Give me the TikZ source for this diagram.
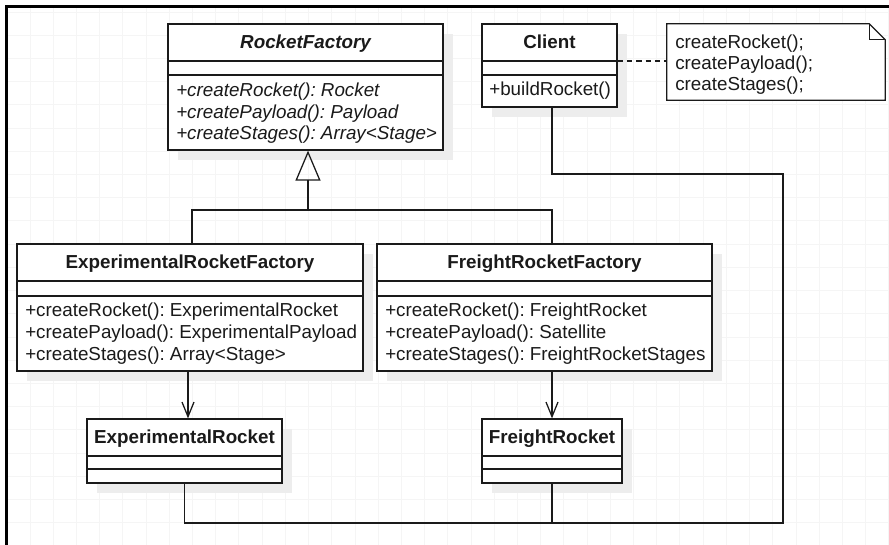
\documentclass[tikz,border=0pt]{standalone}
\usepackage{fontspec}
\setmainfont{Liberation Sans}
\usetikzlibrary{arrows.meta,shadows,calc}
\definecolor{gridc}{HTML}{F5F5F5}
\definecolor{shadc}{HTML}{EDEDED}
\definecolor{inkc}{HTML}{1A1A1A}
\tikzset{
  classbox/.style={draw=inkc, line width=0.95pt, fill=white, inner sep=0pt,
    general shadow={fill=shadc, shadow xshift=7.5pt, shadow yshift=-7.5pt}},
  notebox/.style={inner sep=0pt},
  divider/.style={draw=inkc, line width=0.95pt},
  ctitle/.style={anchor=base, inner sep=0pt, font=\bfseries\fontsize{14.1pt}{16pt}\selectfont, text=inkc},
  ctitleit/.style={anchor=base, inner sep=0pt, font=\bfseries\itshape\fontsize{14.1pt}{16pt}\selectfont, text=inkc},
  member/.style={anchor=base west, inner sep=0pt, font=\fontsize{14.1pt}{16pt}\selectfont, text=inkc},
  memberit/.style={anchor=base west, inner sep=0pt, font=\itshape\fontsize{14.1pt}{16pt}\selectfont, text=inkc},
  conn/.style={draw=inkc, line width=0.95pt},
  inherit/.style={conn, -{Triangle[open, length=22.5pt, width=18.75pt, line width=0.95pt]}},
  assoc/.style={conn, -{Straight Barb[length=11pt, width=9pt, line width=0.95pt]}},
  noteline/.style={conn, dash pattern=on 4pt off 3pt},
}
\frenchspacing
\begin{document}
\begin{tikzpicture}[x=0.75pt, y=-0.75pt]
\useasboundingbox (0,0) rectangle (889,545);
\fill[white] (0,0) rectangle (889,545);
% faint grid
\foreach \i in {0,...,38} {
  \draw[gridc, line width=0.6pt] ({6.79+23.21*\i},8) -- ({6.79+23.21*\i},545);
}
\foreach \j in {0,...,23} {
  \draw[gridc, line width=0.6pt] (8,{12+23.21*\j}) -- (889,{12+23.21*\j});
}
% frame
\draw[black, line width=2pt] (6.5,545) -- (6.5,6.5) -- (889,6.5);

% RocketFactory
\node[classbox, minimum width=275*0.75pt, minimum height=126*0.75pt] (rf) at (305.5,87) {};
\draw[divider] (rf.west |- 0,61) -- (rf.east |- 0,61);
\draw[divider] (rf.west |- 0,75) -- (rf.east |- 0,75);
\node[ctitleit] (rft) at (305.5,49) {RocketFactory};
\node[memberit] (rfm1) at (176,97) {+createRocket(): Rocket};
\node[memberit] (rfm2) at (176,119) {+createPayload(): Payload};
\node[memberit] (rfm3) at (176,140) {+createStages(): Array<Stage>};

% Client
\node[classbox, minimum width=135*0.75pt, minimum height=83*0.75pt] (cl) at (549.5,65.5) {};
\draw[divider] (cl.west |- 0,61) -- (cl.east |- 0,61);
\draw[divider] (cl.west |- 0,75) -- (cl.east |- 0,75);
\node[ctitle] (clt) at (549.5,49) {Client};
\node[member] (clm1) at (489,96) {+buildRocket()};

% Note
\node[notebox, minimum width=218*0.75pt, minimum height=76*0.75pt] (note) at (776,62) {};
\draw[conn, fill=white] (note.north west) -- ($(note.north east)+(-16,0)$) -- ($(note.north east)+(0,16)$) -- (note.south east) -- (note.south west) -- cycle;
\draw[conn] ($(note.north east)+(-16,0)$) -- ($(note.north east)+(-16,16)$) -- ($(note.north east)+(0,16)$);
\node[member] (n1) at (675,49) {createRocket();};
\node[member] (n2) at (675,70) {createPayload();};
\node[member] (n3) at (675,91) {createStages();};

% ExperimentalRocketFactory
\node[classbox, minimum width=346*0.75pt, minimum height=127*0.75pt] (erf) at (190,307.5) {};
\draw[divider] (erf.west |- 0,281) -- (erf.east |- 0,281);
\draw[divider] (erf.west |- 0,296) -- (erf.east |- 0,296);
\node[ctitle] (erft) at (190,269) {ExperimentalRocketFactory};
\node[member] (erfm1) at (25,317) {+createRocket(): ExperimentalRocket};
\node[member] (erfm2) at (25,339) {+createPayload(): ExperimentalPayload};
\node[member] (erfm3) at (25,360) {+createStages(): Array<Stage>};

% FreightRocketFactory
\node[classbox, minimum width=335*0.75pt, minimum height=127*0.75pt] (frf) at (544.5,307.5) {};
\draw[divider] (frf.west |- 0,281) -- (frf.east |- 0,281);
\draw[divider] (frf.west |- 0,296) -- (frf.east |- 0,296);
\node[ctitle] (frft) at (544.5,269) {FreightRocketFactory};
\node[member] (frfm1) at (385,317) {+createRocket(): FreightRocket};
\node[member] (frfm2) at (385,339) {+createPayload(): Satellite};
\node[member] (frfm3) at (385,360) {+createStages(): FreightRocketStages};

% ExperimentalRocket
\node[classbox, minimum width=195*0.75pt, minimum height=64*0.75pt] (er) at (184.5,451) {};
\draw[divider] (er.west |- 0,456) -- (er.east |- 0,456);
\draw[divider] (er.west |- 0,469) -- (er.east |- 0,469);
\node[ctitle] (ert) at (184.5,443) {ExperimentalRocket};

% FreightRocket
\node[classbox, minimum width=140*0.75pt, minimum height=64*0.75pt] (fr) at (552,451) {};
\draw[divider] (fr.west |- 0,456) -- (fr.east |- 0,456);
\draw[divider] (fr.west |- 0,469) -- (fr.east |- 0,469);
\node[ctitle] (frt) at (552,443) {FreightRocket};

% connector helper coordinates
\coordinate (jx) at (308,210);
\coordinate (ea) at (188,0);
\coordinate (fa) at (552,0);
\coordinate (cb) at (552,174);
\coordinate (rb) at (783,174);
\coordinate (bb) at (783,523);
\coordinate (nd) at (0,61);

% inheritance
\draw[inherit] (jx) -- (rf.south -| jx);
\draw[conn] (erf.north -| 192,0) |- (jx) -| (frf.north -| fa);

% factory -> product
\draw[assoc] (erf.south -| ea) -- (er.north -| ea);
\draw[assoc] (frf.south -| fa) -- (fr.north -| fa);

% client associations
\draw[conn] (cl.south -| fa) -- (cb) -- (rb) -- (bb) -| (er.south);
\draw[conn] (fr.south) -- (fr.south |- bb);

% note link
\draw[noteline] (cl.east |- nd) -- (note.west |- nd);
\end{tikzpicture}
\end{document}
